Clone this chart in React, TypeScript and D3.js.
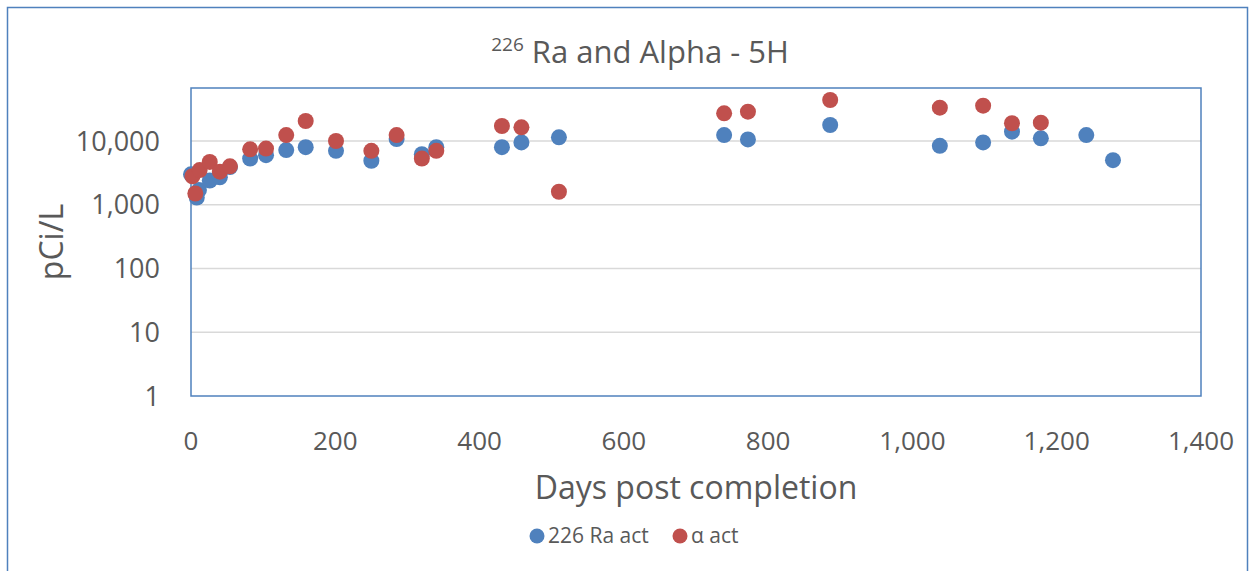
import * as d3 from 'd3';

// 226Ra activity (blue series)
const raDays = [0, 8, 11, 26, 40, 54, 82, 104, 132, 159, 201, 250, 285, 320, 340, 431, 458, 510, 739, 772, 886, 1038, 1098, 1138, 1178, 1241, 1278];
const raValues = [3000, 1300, 1700, 2400, 2700, 3900, 5300, 6000, 7200, 8000, 7000, 4900, 10700, 6200, 8000, 8000, 9500, 11400, 12400, 10600, 17800, 8400, 9500, 14000, 11000, 12400, 5000];

// gross alpha activity (red series)
const alphaDays = [2, 6, 12, 26, 40, 54, 82, 104, 132, 159, 201, 250, 285, 320, 340, 431, 458, 510, 739, 772, 886, 1038, 1098, 1138, 1178];
const alphaValues = [2800, 1500, 3500, 4700, 3300, 4000, 7400, 7600, 12400, 20600, 10000, 7000, 12400, 5300, 7000, 17200, 16400, 1600, 27200, 28800, 44000, 33300, 35800, 19000, 19400];

const xTicks = [0, 200, 400, 600, 800, 1000, 1200, 1400];
const yTicks = [1, 10, 100, 1000, 10000];

const W = 1253;
const H = 571;
const FONT = '"Open Sans", sans-serif';
const TEXT = '#595959';
const BLUE = '#4F81BD';
const RED = '#C0504D';

export default function App() {
  const left = 191;
  const right = 1201;
  const top = 88;
  const bottom = 396;

  const x = d3.scaleLinear().domain([0, 1400]).range([left, right]);
  const y = d3.scaleLog().domain([1, 67800]).range([bottom, top]);
  const fmt = d3.format(',');

  const ra = raDays.map((d, i) => ({ d, v: raValues[i] }));
  const alpha = alphaDays.map((d, i) => ({ d, v: alphaValues[i] }));

  return (
    <div style={{ position: 'absolute', left: 0, top: 0 }}>
      <svg width={W} height={H} style={{ display: 'block', fontFamily: FONT }}>
        <rect x={0} y={0} width={W} height={H} fill="#fff" />
        <rect x={7.5} y={7.5} width={1240} height={H + 10} fill="none" stroke={BLUE} strokeWidth={1.5} />

        {/* title */}
        <text x={640} y={63} textAnchor="middle" fill={TEXT} fontSize={31}>
          <tspan fontSize={19} dy={-12}>226</tspan>
          <tspan dy={12}> Ra and Alpha - 5H</tspan>
        </text>

        {/* gridlines */}
        {yTicks.slice(1).map((t) => (
          <line key={t} x1={left} x2={right} y1={y(t)} y2={y(t)} stroke="#D9D9D9" strokeWidth={1.5} />
        ))}

        {/* plot area border */}
        <rect x={left} y={top} width={right - left} height={bottom - top} fill="none" stroke={BLUE} strokeWidth={1.5} />

        {/* y tick labels */}
        {yTicks.map((t) => (
          <text key={t} x={160} y={y(t)} dy="0.36em" textAnchor="end" fill={TEXT} fontSize={27}>
            {fmt(t)}
          </text>
        ))}

        {/* x tick labels */}
        {xTicks.map((t) => (
          <text key={t} x={x(t)} y={450} textAnchor="middle" fill={TEXT} fontSize={26}>
            {fmt(t)}
          </text>
        ))}

        {/* axis titles */}
        <text transform={`translate(63,${(top + bottom) / 2}) rotate(-90)`} textAnchor="middle" fill={TEXT} fontSize={32}>
          pCi/L
        </text>
        <text x={(left + right) / 2} y={499} textAnchor="middle" fill={TEXT} fontSize={32}>
          Days post completion
        </text>

        {/* series */}
        <g>
          {ra.map((p, i) => (
            <circle key={i} cx={x(p.d)} cy={y(p.v)} r={8} fill={BLUE} />
          ))}
        </g>
        <g>
          {alpha.map((p, i) => (
            <circle key={i} cx={x(p.d)} cy={y(p.v)} r={8} fill={RED} />
          ))}
        </g>

        {/* legend */}
        <circle cx={537} cy={536} r={7.5} fill={BLUE} />
        <text x={548} y={543} fill={TEXT} fontSize={21}>226 Ra act</text>
        <circle cx={680} cy={536} r={7.5} fill={RED} />
        <text x={691} y={543} fill={TEXT} fontSize={21}>α act</text>
      </svg>
    </div>
  );
}
